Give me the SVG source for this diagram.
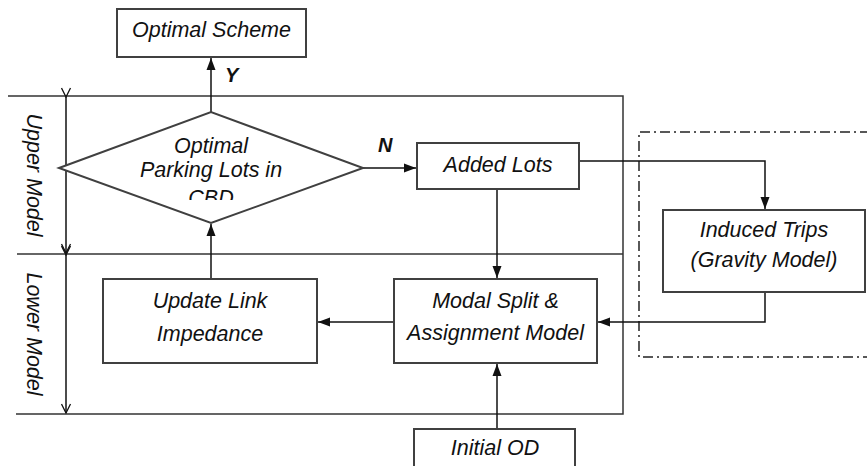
<svg xmlns="http://www.w3.org/2000/svg" width="867" height="466" viewBox="0 0 867 466">
<style>
.box{fill:#fff;stroke:#404040;stroke-width:2}
.t{font-family:"Liberation Sans",Arial,sans-serif;font-size:21.5px;font-style:italic;fill:#111;text-anchor:middle}
.lbl{font-family:"Liberation Sans",Arial,sans-serif;font-size:20px;font-style:italic;font-weight:bold;fill:#111}
.frame{fill:none;stroke:#333;stroke-width:1.5}
.c{fill:none;stroke:#111;stroke-width:1.5}
.dd{fill:none;stroke:#222;stroke-width:1.5;stroke-dasharray:10 4 2 4}
</style>
<defs>
<marker id="ah" markerUnits="userSpaceOnUse" markerWidth="12" markerHeight="12" viewBox="0 0 12 12" refX="12" refY="6" orient="auto">
<path d="M0,1.5 L12,6 L0,10.5 Z" fill="#111"/>
</marker>
<marker id="oh" markerUnits="userSpaceOnUse" markerWidth="11" markerHeight="11" viewBox="0 0 11 11" refX="10" refY="5.5" orient="auto">
<path d="M1,1 L10,5.5 L1,10" fill="none" stroke="#111" stroke-width="1.3"/>
</marker>
<clipPath id="dclip"><rect x="0" y="0" width="867" height="200"/></clipPath>
</defs>

<g id="frames">
<path class="frame" d="M8,96 H623 V414 H16"/>
<path class="frame" d="M17,254 H623"/>
<path class="dd" d="M870,132 H639 V357 H870"/>
<path class="c" d="M66,97 V253" marker-start="url(#oh)" marker-end="url(#oh)"/>
<path class="c" d="M66,255 V413" marker-start="url(#oh)" marker-end="url(#oh)"/>
<text class="t" transform="translate(27,175) rotate(90)">Upper Model</text>
<text class="t" transform="translate(27,334) rotate(90)">Lower Model</text>
</g>

<g id="connectors">
<path class="c" d="M211,112 V58" marker-end="url(#ah)"/>
<path class="c" d="M363,168 H416" marker-end="url(#ah)"/>
<path class="c" d="M497,190 V278" marker-end="url(#ah)"/>
<path class="c" d="M580,161 H765 V209" marker-end="url(#ah)"/>
<path class="c" d="M765,293 V322 H598" marker-end="url(#ah)"/>
<path class="c" d="M393,322 H318" marker-end="url(#ah)"/>
<path class="c" d="M211,278 V224" marker-end="url(#ah)"/>
<path class="c" d="M497,428 V364" marker-end="url(#ah)"/>
<text class="lbl" x="225" y="82">Y</text>
<text class="lbl" x="378" y="152">N</text>
</g>

<g id="optimal-scheme">
<rect class="box" x="117" y="9" width="189" height="48"/>
<text class="t" x="211.5" y="37">Optimal Scheme</text>
</g>

<g id="decision">
<polygon class="box" points="59,168 211,112 363,168 211,223"/>
<g clip-path="url(#dclip)">
<text class="t" x="211" y="153">Optimal</text>
<text class="t" x="211" y="177">Parking Lots in</text>
<text class="t" x="211" y="205">CBD</text>
</g>
</g>

<g id="added-lots">
<rect class="box" x="417" y="143" width="162" height="46"/>
<text class="t" x="498" y="172">Added Lots</text>
</g>

<g id="induced-trips">
<rect class="box" x="663" y="210" width="202" height="82"/>
<text class="t" x="764" y="237">Induced Trips</text>
<text class="t" x="764" y="267">(Gravity Model)</text>
</g>

<g id="update-link">
<rect class="box" x="103" y="279" width="214" height="84"/>
<text class="t" x="210" y="308">Update Link</text>
<text class="t" x="210" y="341">Impedance</text>
</g>

<g id="modal-split">
<rect class="box" x="394" y="279" width="203" height="84"/>
<text class="t" x="495.5" y="308">Modal Split &amp;</text>
<text class="t" x="495.5" y="340">Assignment Model</text>
</g>

<g id="initial-od">
<rect class="box" x="414" y="429" width="161" height="60"/>
<text class="t" x="495" y="455">Initial OD</text>
</g>
</svg>
